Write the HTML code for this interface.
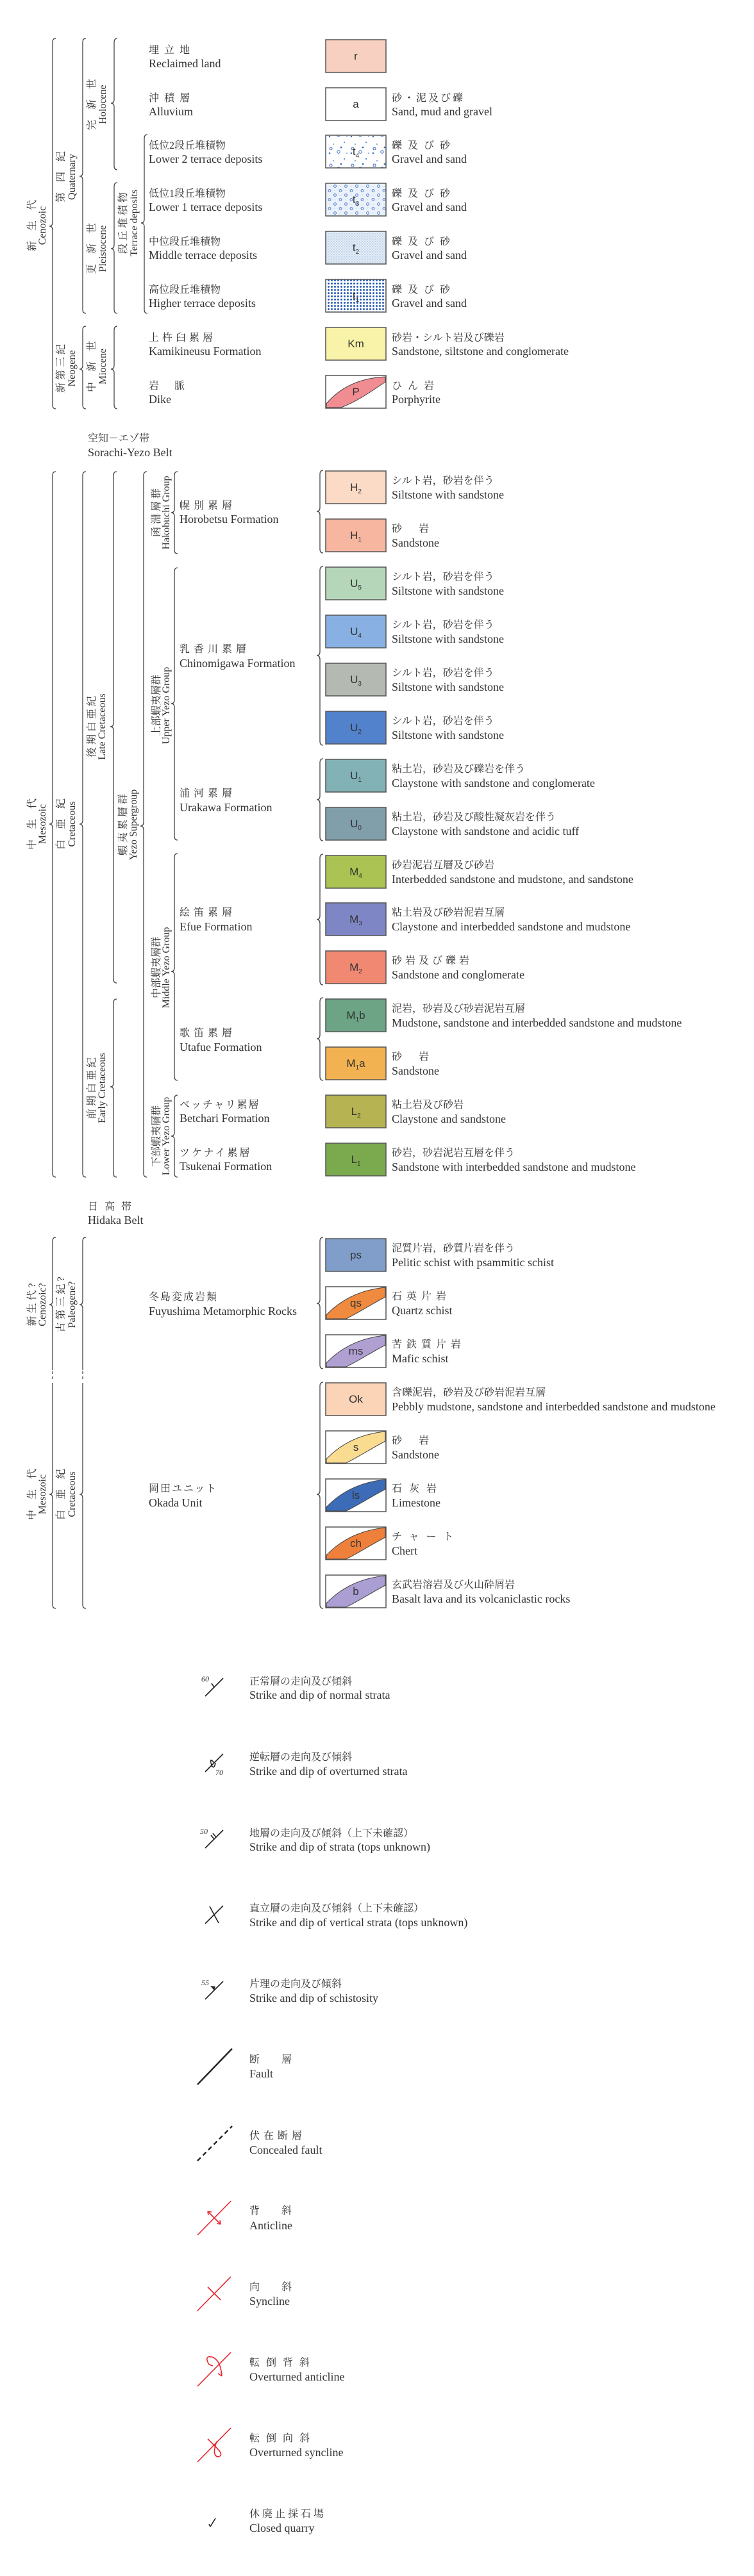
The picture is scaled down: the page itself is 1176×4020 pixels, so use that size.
<!DOCTYPE html>
<html><head><meta charset="utf-8"><style>
html,body{margin:0;padding:0;background:#fff;}
svg{display:block}
.j{font-family:"Liberation Serif","Noto Serif CJK SC",serif;font-size:16px;fill:#333}
.e{font-family:"Liberation Serif",serif;font-size:18px;fill:#333}
.v{font-family:"Liberation Serif","Noto Serif CJK SC",serif;font-size:16px;fill:#333;text-anchor:middle}
.b{font-family:"Liberation Sans",sans-serif;font-size:17px;fill:#333;text-anchor:middle}
.br{fill:none;stroke:#444;stroke-width:1.3}
.bx{stroke:#555;stroke-width:1.5}
.n{font-family:"Liberation Serif",serif;font-size:12px;font-style:italic;fill:#333}
</style></head><body>
<svg width="1176" height="4020" viewBox="0 0 1176 4020" xmlns="http://www.w3.org/2000/svg">
<defs>
<pattern id="p4" width="34" height="26" patternUnits="userSpaceOnUse">
<circle cx="4" cy="5" r="1.3" fill="#3a6cc0"/><circle cx="18" cy="3" r="2.2" fill="none" stroke="#3a6cc0" stroke-width="1"/>
<circle cx="27" cy="14" r="1" fill="#3a6cc0"/><circle cx="10" cy="17" r="0.9" fill="#3a6cc0"/><circle cx="22" cy="22" r="1.4" fill="#3a6cc0"/><circle cx="31" cy="5" r="0.8" fill="#3a6cc0"/><circle cx="6" cy="24" r="2" fill="none" stroke="#3a6cc0" stroke-width="1"/>
</pattern>
<pattern id="p3" width="17" height="14" patternUnits="userSpaceOnUse">
<rect width="17" height="14" fill="#eaf1fb"/>
<circle cx="4" cy="3.5" r="1.9" fill="none" stroke="#3a6cc0" stroke-width="0.9"/><circle cx="12.5" cy="10.5" r="1.9" fill="none" stroke="#3a6cc0" stroke-width="0.9"/>
<circle cx="12" cy="3" r="0.5" fill="#8eaed6"/><circle cx="4" cy="11" r="0.5" fill="#8eaed6"/>
</pattern>
<pattern id="p2" width="4" height="4" patternUnits="userSpaceOnUse">
<rect width="4" height="4" fill="#e4edf7"/><circle cx="1" cy="1" r="0.7" fill="#8eaed6"/><circle cx="3" cy="3" r="0.6" fill="#a9c1e2"/>
</pattern>
<pattern id="p1" width="5" height="5" patternUnits="userSpaceOnUse">
<rect width="5" height="5" fill="#fff"/><circle cx="2.5" cy="2.5" r="1.5" fill="#2a5cb4"/>
</pattern>
</defs>

<!-- ===== Top section braces ===== -->
<g class="br">
<path d="M87 60 Q82 60 82 66 L82 347 Q82 353 77 353 Q82 353 82 359 L82 632 Q82 638 87 638"/>
<path d="M134 60 Q129 60 129 66 L129 269 Q129 275 124 275 Q129 275 129 281 L129 483 Q129 489 134 489"/>
<path d="M134 509 Q129 509 129 515 L129 570 Q129 576 124 576 Q129 576 129 582 L129 632 Q129 638 134 638"/>
<path d="M183 60 Q178 60 178 66 L178 155 Q178 161 173 161 Q178 161 178 167 L178 259 Q178 265 183 265"/>
<path d="M183 285 Q178 285 178 291 L178 382 Q178 388 173 388 Q178 388 178 394 L178 483 Q178 489 183 489"/>
<path d="M183 509 Q178 509 178 515 L178 570 Q178 576 173 576 Q178 576 178 582 L178 632 Q178 638 183 638"/>
<path d="M230 210 Q225 210 225 216 L225 342 Q225 348 220 348 Q225 348 225 354 L225 483 Q225 489 230 489"/>
</g>
<g transform="translate(0,352) rotate(-90)"><text class="v" x="0" y="55">新　生　代</text><text class="v" x="0" y="71">Cenozoic</text></g>
<g transform="translate(0,276) rotate(-90)"><text class="v" x="0" y="100">第　四　紀</text><text class="v" x="0" y="117">Quaternary</text></g>
<g transform="translate(0,163) rotate(-90)"><text class="v" x="0" y="148">完　新　世</text><text class="v" x="0" y="165">Holocene</text></g>
<g transform="translate(0,388) rotate(-90)"><text class="v" x="0" y="148">更　新　世</text><text class="v" x="0" y="165">Pleistocene</text></g>
<g transform="translate(0,348) rotate(-90)"><text class="v" x="0" y="197">段 丘 堆 積 物</text><text class="v" x="0" y="214">Terrace deposits</text></g>
<g transform="translate(0,575) rotate(-90)"><text class="v" x="0" y="100">新 第 三 紀</text><text class="v" x="0" y="117">Neogene</text></g>
<g transform="translate(0,572) rotate(-90)"><text class="v" x="0" y="148">中　新　世</text><text class="v" x="0" y="165">Miocene</text></g>

<!-- top boxes -->
<rect class="bx" x="508" y="62" width="94" height="51" fill="#f8d0c1"/><text class="b" x="555" y="93">r</text>
<rect class="bx" x="508" y="137" width="94" height="51" fill="#fff"/><text class="b" x="555" y="168">a</text>
<rect class="bx" x="508" y="211" width="94" height="51" fill="url(#p4)"/><text class="b" x="555" y="242">t<tspan font-size="10" dy="4">4</tspan></text>
<rect class="bx" x="508" y="286" width="94" height="51" fill="url(#p3)"/><text class="b" x="555" y="317">t<tspan font-size="10" dy="4">3</tspan></text>
<rect class="bx" x="508" y="361" width="94" height="51" fill="url(#p2)"/><text class="b" x="555" y="392">t<tspan font-size="10" dy="4">2</tspan></text>
<rect class="bx" x="508" y="436" width="94" height="51" fill="url(#p1)"/><text class="b" x="555" y="467">t<tspan font-size="10" dy="4">1</tspan></text>
<rect class="bx" x="508" y="511" width="94" height="51" fill="#f8f3a8"/><text class="b" x="555" y="542">Km</text>
<rect class="bx" x="508" y="586" width="94" height="51" fill="#fff"/>
<path d="M509 630 C530 605 560 590 601 588 L601 596 C580 610 560 625 532 636 L509 636 Z" fill="#f08c92" stroke="#444" stroke-width="1"/>
<text class="b" x="555" y="617">P</text>

<text class="j" x="232" y="83" letter-spacing="8">埋立地</text><text class="e" x="232" y="105">Reclaimed land</text>
<text class="j" x="232" y="158" letter-spacing="8">沖積層</text><text class="e" x="232" y="180">Alluvium</text>
<text class="j" x="232" y="232">低位2段丘堆積物</text><text class="e" x="232" y="254">Lower 2 terrace deposits</text>
<text class="j" x="232" y="307">低位1段丘堆積物</text><text class="e" x="232" y="329">Lower 1 terrace deposits</text>
<text class="j" x="232" y="382">中位段丘堆積物</text><text class="e" x="232" y="404">Middle terrace deposits</text>
<text class="j" x="232" y="457">高位段丘堆積物</text><text class="e" x="232" y="479">Higher terrace deposits</text>
<text class="j" x="232" y="532" letter-spacing="5">上杵臼累層</text><text class="e" x="232" y="554">Kamikineusu Formation</text>
<text class="j" x="232" y="607" letter-spacing="24">岩脈</text><text class="e" x="232" y="629">Dike</text>

<text class="j" x="611" y="158" letter-spacing="3">砂・泥及び礫</text><text class="e" x="611" y="180">Sand, mud and gravel</text>
<text class="j" x="611" y="232" letter-spacing="9">礫及び砂</text><text class="e" x="611" y="254">Gravel and sand</text>
<text class="j" x="611" y="307" letter-spacing="9">礫及び砂</text><text class="e" x="611" y="329">Gravel and sand</text>
<text class="j" x="611" y="382" letter-spacing="9">礫及び砂</text><text class="e" x="611" y="404">Gravel and sand</text>
<text class="j" x="611" y="457" letter-spacing="9">礫及び砂</text><text class="e" x="611" y="479">Gravel and sand</text>
<text class="j" x="611" y="532">砂岩・シルト岩及び礫岩</text><text class="e" x="611" y="554">Sandstone, siltstone and conglomerate</text>
<text class="j" x="611" y="607" letter-spacing="9">ひん岩</text><text class="e" x="611" y="629">Porphyrite</text>

<text class="j" x="137" y="689">空知－エゾ帯</text><text class="e" x="137" y="712">Sorachi-Yezo Belt</text>

<!-- ===== Yezo section braces ===== -->
<g class="br">
<path d="M87 736 Q82 736 82 742 L82 1280 Q82 1286 77 1286 Q82 1286 82 1292 L82 1831 Q82 1837 87 1837"/>
<path d="M134 736 Q129 736 129 742 L129 1280 Q129 1286 124 1286 Q129 1286 129 1292 L129 1831 Q129 1837 134 1837"/>
<path d="M182 736 Q177 736 177 742 L177 1128 Q177 1134 172 1134 Q177 1134 177 1140 L177 1528 Q177 1534 182 1534"/>
<path d="M182 1559 Q177 1559 177 1565 L177 1690 Q177 1696 172 1696 Q177 1696 177 1702 L177 1831 Q177 1837 182 1837"/>
<path d="M229 736 Q224 736 224 742 L224 1283 Q224 1289 219 1289 Q224 1289 224 1295 L224 1831 Q224 1837 229 1837"/>
<path d="M277 736 Q272 736 272 742 L272 794 Q272 800 267 800 Q272 800 272 806 L272 858 Q272 864 277 864"/>
<path d="M277 886 Q272 886 272 892 L272 1092 Q272 1098 267 1098 Q272 1098 272 1104 L272 1305 Q272 1311 277 1311"/>
<path d="M277 1332 Q272 1332 272 1338 L272 1510 Q272 1516 267 1516 Q272 1516 272 1522 L272 1680 Q272 1686 277 1686"/>
<path d="M277 1709 Q272 1709 272 1715 L272 1767 Q272 1773 267 1773 Q272 1773 272 1779 L272 1831 Q272 1837 277 1837"/>
<path d="M504 734 Q499 734 499 740 L499 792 Q499 798 494 798 Q499 798 499 804 L499 857 Q499 863 504 863"/>
<path d="M504 884 Q499 884 499 890 L499 1017 Q499 1023 494 1023 Q499 1023 499 1029 L499 1157 Q499 1163 504 1163"/>
<path d="M504 1184 Q499 1184 499 1190 L499 1242 Q499 1248 494 1248 Q499 1248 499 1254 L499 1306 Q499 1312 504 1312"/>
<path d="M504 1333 Q499 1333 499 1339 L499 1429 Q499 1435 494 1435 Q499 1435 499 1441 L499 1531 Q499 1537 504 1537"/>
<path d="M504 1557 Q499 1557 499 1563 L499 1615 Q499 1621 494 1621 Q499 1621 499 1627 L499 1680 Q499 1686 504 1686"/>
</g>
<g transform="translate(0,1286) rotate(-90)"><text class="v" x="0" y="55">中　生　代</text><text class="v" x="0" y="71">Mesozoic</text></g>
<g transform="translate(0,1286) rotate(-90)"><text class="v" x="0" y="100">白　亜　紀</text><text class="v" x="0" y="117">Cretaceous</text></g>
<g transform="translate(0,1134) rotate(-90)"><text class="v" x="0" y="148">後 期 白 亜 紀</text><text class="v" x="0" y="164">Late Cretaceous</text></g>
<g transform="translate(0,1698) rotate(-90)"><text class="v" x="0" y="148">前 期 白 亜 紀</text><text class="v" x="0" y="164">Early Cretaceous</text></g>
<g transform="translate(0,1287) rotate(-90)"><text class="v" x="0" y="197">蝦 夷 累 層 群</text><text class="v" x="0" y="213">Yezo Supergroup</text></g>
<g transform="translate(0,800) rotate(-90)"><text class="v" x="0" y="249">函 淵 層 群</text><text class="v" x="0" y="264">Hakobuchi Group</text></g>
<g transform="translate(0,1101) rotate(-90)"><text class="v" x="0" y="249">上部蝦夷層群</text><text class="v" x="0" y="264">Upper Yezo Group</text></g>
<g transform="translate(0,1510) rotate(-90)"><text class="v" x="0" y="249">中部蝦夷層群</text><text class="v" x="0" y="264">Middle Yezo Group</text></g>
<g transform="translate(0,1773) rotate(-90)"><text class="v" x="0" y="249">下部蝦夷層群</text><text class="v" x="0" y="264">Lower Yezo Group</text></g>

<text class="j" x="280" y="794" letter-spacing="6">幌別累層</text><text class="e" x="280" y="816">Horobetsu Formation</text>
<text class="j" x="280" y="1018" letter-spacing="6">乳香川累層</text><text class="e" x="280" y="1041">Chinomigawa Formation</text>
<text class="j" x="280" y="1243" letter-spacing="6">浦河累層</text><text class="e" x="280" y="1266">Urakawa Formation</text>
<text class="j" x="280" y="1429" letter-spacing="6">絵笛累層</text><text class="e" x="280" y="1452">Efue Formation</text>
<text class="j" x="280" y="1617" letter-spacing="6">歌笛累層</text><text class="e" x="280" y="1640">Utafue Formation</text>
<text class="j" x="280" y="1729" letter-spacing="2">ベッチャリ累層</text><text class="e" x="280" y="1751">Betchari Formation</text>
<text class="j" x="280" y="1804" letter-spacing="3">ツケナイ累層</text><text class="e" x="280" y="1826">Tsukenai Formation</text>

<!-- Yezo boxes -->
<rect class="bx" x="508" y="735" width="94" height="51" fill="#fbdac6"/><text class="b" x="555" y="766">H<tspan font-size="10" dy="4">2</tspan></text>
<rect class="bx" x="508" y="810" width="94" height="51" fill="#f6b6a0"/><text class="b" x="555" y="841">H<tspan font-size="10" dy="4">1</tspan></text>
<rect class="bx" x="508" y="885" width="94" height="51" fill="#b6d6ba"/><text class="b" x="555" y="916">U<tspan font-size="10" dy="4">5</tspan></text>
<rect class="bx" x="508" y="960" width="94" height="51" fill="#88b0e2"/><text class="b" x="555" y="991">U<tspan font-size="10" dy="4">4</tspan></text>
<rect class="bx" x="508" y="1035" width="94" height="51" fill="#b4bab2"/><text class="b" x="555" y="1066">U<tspan font-size="10" dy="4">3</tspan></text>
<rect class="bx" x="508" y="1110" width="94" height="51" fill="#5282cc"/><text class="b" x="555" y="1141">U<tspan font-size="10" dy="4">2</tspan></text>
<rect class="bx" x="508" y="1185" width="94" height="51" fill="#82b2b6"/><text class="b" x="555" y="1216">U<tspan font-size="10" dy="4">1</tspan></text>
<rect class="bx" x="508" y="1260" width="94" height="51" fill="#819eab"/><text class="b" x="555" y="1291">U<tspan font-size="10" dy="4">0</tspan></text>
<rect class="bx" x="508" y="1335" width="94" height="51" fill="#abc352"/><text class="b" x="555" y="1366">M<tspan font-size="10" dy="4">4</tspan></text>
<rect class="bx" x="508" y="1409" width="94" height="51" fill="#7e86c6"/><text class="b" x="555" y="1440">M<tspan font-size="10" dy="4">3</tspan></text>
<rect class="bx" x="508" y="1484" width="94" height="51" fill="#f08872"/><text class="b" x="555" y="1515">M<tspan font-size="10" dy="4">2</tspan></text>
<rect class="bx" x="508" y="1559" width="94" height="51" fill="#6ca485"/><text class="b" x="555" y="1590">M<tspan font-size="10" dy="4">1</tspan><tspan dy="-4">b</tspan></text>
<rect class="bx" x="508" y="1634" width="94" height="51" fill="#f3b252"/><text class="b" x="555" y="1665">M<tspan font-size="10" dy="4">1</tspan><tspan dy="-4">a</tspan></text>
<rect class="bx" x="508" y="1709" width="94" height="51" fill="#b5b352"/><text class="b" x="555" y="1740">L<tspan font-size="10" dy="4">2</tspan></text>
<rect class="bx" x="508" y="1784" width="94" height="51" fill="#7aa94e"/><text class="b" x="555" y="1815">L<tspan font-size="10" dy="4">1</tspan></text>

<text class="j" x="611" y="755">シルト岩，砂岩を伴う</text><text class="e" x="611" y="778">Siltstone with sandstone</text>
<text class="j" x="611" y="830" letter-spacing="26">砂岩</text><text class="e" x="611" y="853">Sandstone</text>
<text class="j" x="611" y="905">シルト岩，砂岩を伴う</text><text class="e" x="611" y="928">Siltstone with sandstone</text>
<text class="j" x="611" y="980">シルト岩，砂岩を伴う</text><text class="e" x="611" y="1003">Siltstone with sandstone</text>
<text class="j" x="611" y="1055">シルト岩，砂岩を伴う</text><text class="e" x="611" y="1078">Siltstone with sandstone</text>
<text class="j" x="611" y="1130">シルト岩，砂岩を伴う</text><text class="e" x="611" y="1153">Siltstone with sandstone</text>
<text class="j" x="611" y="1205">粘土岩，砂岩及び礫岩を伴う</text><text class="e" x="611" y="1228">Claystone with sandstone and conglomerate</text>
<text class="j" x="611" y="1280">粘土岩，砂岩及び酸性凝灰岩を伴う</text><text class="e" x="611" y="1303">Claystone with sandstone and acidic tuff</text>
<text class="j" x="611" y="1355">砂岩泥岩互層及び砂岩</text><text class="e" x="611" y="1378">Interbedded sandstone and mudstone, and sandstone</text>
<text class="j" x="611" y="1429">粘土岩及び砂岩泥岩互層</text><text class="e" x="611" y="1452">Claystone and interbedded sandstone and mudstone</text>
<text class="j" x="611" y="1504" letter-spacing="5">砂岩及び礫岩</text><text class="e" x="611" y="1527">Sandstone and conglomerate</text>
<text class="j" x="611" y="1579">泥岩，砂岩及び砂岩泥岩互層</text><text class="e" x="611" y="1602">Mudstone, sandstone and interbedded sandstone and mudstone</text>
<text class="j" x="611" y="1654" letter-spacing="26">砂岩</text><text class="e" x="611" y="1677">Sandstone</text>
<text class="j" x="611" y="1729">粘土岩及び砂岩</text><text class="e" x="611" y="1752">Claystone and sandstone</text>
<text class="j" x="611" y="1804">砂岩，砂岩泥岩互層を伴う</text><text class="e" x="611" y="1827">Sandstone with interbedded sandstone and mudstone</text>

<text class="j" x="137" y="1888" letter-spacing="10">日高帯</text><text class="e" x="137" y="1910">Hidaka Belt</text>

<!-- ===== Hidaka section ===== -->
<g class="br">
<path d="M87 1931 Q82 1931 82 1937 L82 2030 Q82 2036 77 2036 Q82 2036 82 2042 L82 2138"/>
<path d="M134 1931 Q129 1931 129 1937 L129 2030 Q129 2036 124 2036 Q129 2036 129 2042 L129 2138"/>
<path d="M82 2140 L82 2156 M129 2140 L129 2156" stroke-dasharray="4 4"/>
<path d="M82 2158 L82 2326 Q82 2332 77 2332 Q82 2332 82 2338 L82 2504 Q82 2510 87 2510"/>
<path d="M129 2158 L129 2326 Q129 2332 124 2332 Q129 2332 129 2338 L129 2504 Q129 2510 134 2510"/>
<path d="M504 1931 Q499 1931 499 1937 L499 2028 Q499 2034 494 2034 Q499 2034 499 2040 L499 2130 Q499 2136 504 2136"/>
<path d="M504 2157 Q499 2157 499 2163 L499 2326 Q499 2332 494 2332 Q499 2332 499 2338 L499 2504 Q499 2510 504 2510"/>
</g>
<g transform="translate(0,2036) rotate(-90)"><text class="v" x="0" y="55">新 生 代 ?</text><text class="v" x="0" y="71">Cenozoic?</text></g>
<g transform="translate(0,2036) rotate(-90)"><text class="v" x="0" y="100">古 第 三 紀 ?</text><text class="v" x="0" y="117">Paleogene?</text></g>
<g transform="translate(0,2332) rotate(-90)"><text class="v" x="0" y="55">中　生　代</text><text class="v" x="0" y="71">Mesozoic</text></g>
<g transform="translate(0,2332) rotate(-90)"><text class="v" x="0" y="100">白　亜　紀</text><text class="v" x="0" y="117">Cretaceous</text></g>

<text class="j" x="232" y="2029" letter-spacing="2">冬島変成岩類</text><text class="e" x="232" y="2052">Fuyushima Metamorphic Rocks</text>
<text class="j" x="232" y="2328" letter-spacing="2">岡田ユニット</text><text class="e" x="232" y="2351">Okada Unit</text>

<rect class="bx" x="508" y="1933" width="94" height="51" fill="#809ec9"/><text class="b" x="555" y="1964">ps</text>
<rect class="bx" x="508" y="2008" width="94" height="51" fill="#fff"/>
<path d="M509 2052 C530 2030 560 2013 601 2009 L601 2024 C580 2035 560 2048 540 2058 L509 2058 Z" fill="#ef8a3e" stroke="#444" stroke-width="1"/>
<text class="b" x="555" y="2039">qs</text>
<rect class="bx" x="508" y="2083" width="94" height="51" fill="#fff"/>
<path d="M509 2127 C530 2105 560 2088 601 2084 L601 2099 C580 2110 560 2123 540 2133 L509 2133 Z" fill="#b0a0d2" stroke="#444" stroke-width="1"/>
<text class="b" x="555" y="2114">ms</text>
<rect class="bx" x="508" y="2158" width="94" height="51" fill="#fbd3b6"/><text class="b" x="555" y="2189">Ok</text>
<rect class="bx" x="508" y="2233" width="94" height="51" fill="#fff"/>
<path d="M509 2277 C530 2255 560 2238 601 2234 L601 2249 C580 2260 560 2273 540 2283 L509 2283 Z" fill="#fadc90" stroke="#444" stroke-width="1"/>
<text class="b" x="555" y="2264">s</text>
<rect class="bx" x="508" y="2308" width="94" height="51" fill="#fff"/>
<path d="M509 2352 C530 2330 560 2313 601 2309 L601 2324 C580 2335 560 2348 540 2358 L509 2358 Z" fill="#3c6cb8" stroke="#444" stroke-width="1"/>
<text class="b" x="555" y="2339">ls</text>
<rect class="bx" x="508" y="2383" width="94" height="51" fill="#fff"/>
<path d="M509 2427 C530 2405 560 2388 601 2384 L601 2399 C580 2410 560 2423 540 2433 L509 2433 Z" fill="#ef803c" stroke="#444" stroke-width="1"/>
<text class="b" x="555" y="2414">ch</text>
<rect class="bx" x="508" y="2458" width="94" height="51" fill="#fff"/>
<path d="M509 2502 C530 2480 560 2463 601 2459 L601 2474 C580 2485 560 2498 540 2508 L509 2508 Z" fill="#aa9ed2" stroke="#444" stroke-width="1"/>
<text class="b" x="555" y="2489">b</text>

<text class="j" x="611" y="1953">泥質片岩，砂質片岩を伴う</text><text class="e" x="611" y="1976">Pelitic schist with psammitic schist</text>
<text class="j" x="611" y="2028" letter-spacing="7">石英片岩</text><text class="e" x="611" y="2051">Quartz schist</text>
<text class="j" x="611" y="2103" letter-spacing="7">苦鉄質片岩</text><text class="e" x="611" y="2126">Mafic schist</text>
<text class="j" x="611" y="2178">含礫泥岩，砂岩及び砂岩泥岩互層</text><text class="e" x="611" y="2201">Pebbly mudstone, sandstone and interbedded sandstone and mudstone</text>
<text class="j" x="611" y="2253" letter-spacing="26">砂岩</text><text class="e" x="611" y="2276">Sandstone</text>
<text class="j" x="611" y="2328" letter-spacing="11">石灰岩</text><text class="e" x="611" y="2351">Limestone</text>
<text class="j" x="611" y="2403" letter-spacing="11">チャート</text><text class="e" x="611" y="2426">Chert</text>
<text class="j" x="611" y="2478">玄武岩溶岩及び火山砕屑岩</text><text class="e" x="611" y="2501">Basalt lava and its volcaniclastic rocks</text>

<!-- ===== Symbols ===== -->
<g stroke="#222" stroke-width="1.6" fill="none">
<path d="M320 2647 L348 2619 M334 2633 L330 2627"/>
<path d="M320 2765 L348 2737 M334 2751 Q326 2741 330 2755 Q334 2762 336 2751"/>
<path d="M320 2884 L348 2856 M334 2870 L329 2864 M337 2867 L332 2861"/>
<path d="M320 3002 L348 2974 M327 2975 L341 3001"/>
<path d="M320 3120 L348 3092"/>
<path d="M308 3253 L362 3197" stroke-width="2.4"/>
<path d="M308 3372 L362 3318" stroke-width="2.4" stroke-dasharray="7 5"/>
<path d="M328 3943 L336 3930 M328 3943 L326 3939"/>
</g>
<path d="M334 3106 L328 3099 L336 3100 Z" fill="#222"/>
<text class="n" x="314" y="2624">60</text>
<text class="n" x="336" y="2770">70</text>
<text class="n" x="312" y="2862">50</text>
<text class="n" x="314" y="3098">55</text>

<g stroke="#e8242c" stroke-width="1.6" fill="none">
<path d="M308 3488 L360 3435"/>
<path d="M324 3451 L344 3471 M324 3451 L325 3457 M324 3451 L330 3452 M344 3471 L343 3465 M344 3471 L338 3470"/>
<path d="M308 3606 L360 3553"/>
<path d="M324 3569 L344 3589 M334 3579 L328 3573 M334 3579 L340 3585"/>
<path d="M308 3724 L360 3671"/>
<path d="M326 3690 Q318 3676 330 3678 Q344 3682 346 3708 M346 3708 L345 3701 M346 3708 L340 3704 M326 3690 L332 3692"/>
<path d="M308 3842 L360 3789"/>
<path d="M324 3806 L338 3820 Q350 3832 340 3834 Q330 3832 338 3810"/>
</g>

<text class="j" x="389" y="2629">正常層の走向及び傾斜</text><text class="e" x="389" y="2651" font-size="17.5">Strike and dip of normal strata</text>
<text class="j" x="389" y="2747">逆転層の走向及び傾斜</text><text class="e" x="389" y="2770" font-size="17.5">Strike and dip of overturned strata</text>
<text class="j" x="389" y="2866">地層の走向及び傾斜（上下未確認）</text><text class="e" x="389" y="2888" font-size="17.5">Strike and dip of strata (tops unknown)</text>
<text class="j" x="389" y="2983">直立層の走向及び傾斜（上下未確認）</text><text class="e" x="389" y="3006" font-size="17.5">Strike and dip of vertical strata (tops unknown)</text>
<text class="j" x="389" y="3101">片理の走向及び傾斜</text><text class="e" x="389" y="3124" font-size="17.5">Strike and dip of schistosity</text>
<text class="j" x="389" y="3219" letter-spacing="34">断層</text><text class="e" x="389" y="3242" font-size="17.5">Fault</text>
<text class="j" x="389" y="3338" letter-spacing="6">伏在断層</text><text class="e" x="389" y="3361" font-size="17.5">Concealed fault</text>
<text class="j" x="389" y="3455" letter-spacing="34">背斜</text><text class="e" x="389" y="3479" font-size="17.5">Anticline</text>
<text class="j" x="389" y="3574" letter-spacing="34">向斜</text><text class="e" x="389" y="3597" font-size="17.5">Syncline</text>
<text class="j" x="389" y="3692" letter-spacing="10">転倒背斜</text><text class="e" x="389" y="3715" font-size="17.5">Overturned anticline</text>
<text class="j" x="389" y="3810" letter-spacing="10">転倒向斜</text><text class="e" x="389" y="3833" font-size="17.5">Overturned syncline</text>
<text class="j" x="389" y="3928" letter-spacing="4">休廃止採石場</text><text class="e" x="389" y="3951" font-size="17.5">Closed quarry</text>
</svg>
</body></html>
